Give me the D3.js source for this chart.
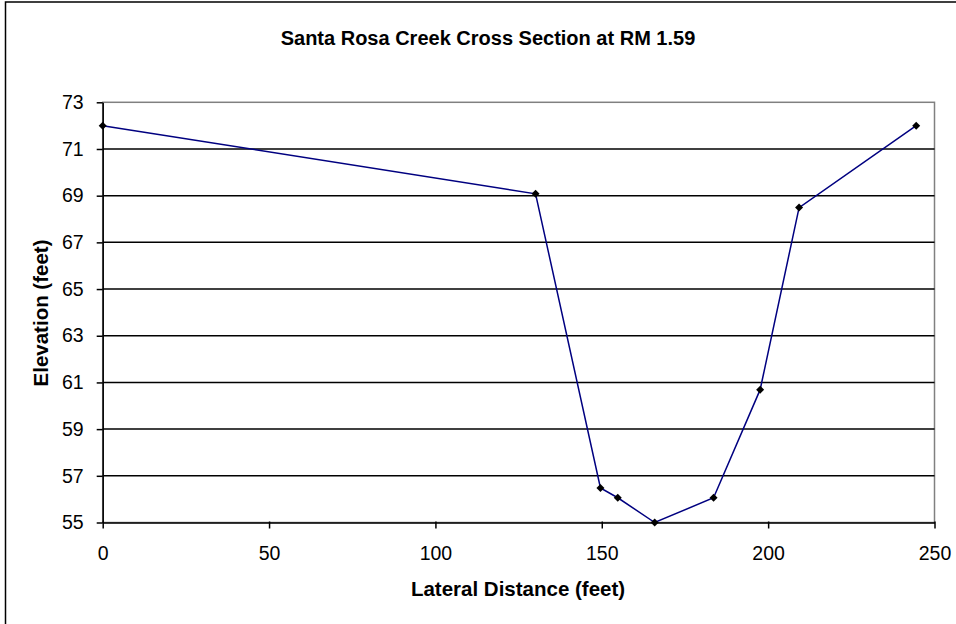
<!DOCTYPE html>
<html>
<head>
<meta charset="utf-8">
<script src="https://cdn.jsdelivr.net/npm/d3@7"></script>
<style>
  body { margin: 0; background: #fff; overflow: hidden; }
  svg { display: block; }
  text { font-family: "Liberation Sans", Arial, sans-serif; }
</style>
</head>
<body>
<div id="display"></div>
<script>
// cross section survey points
const distance = [0, 130.1, 149.6, 154.8, 165.9, 183.6, 197.6, 209.3, 244.5];
const elevation = [72.0, 69.08, 56.48, 56.06, 55.0, 56.06, 60.69, 68.49, 72.0];
const xTicks = [0, 50, 100, 150, 200, 250];
const yTicks = [55, 57, 59, 61, 63, 65, 67, 69, 71, 73];

const W = 956, H = 624;
const plotLeft = 102.7, plotRight = 934.5, plotTop = 102.3, plotBottom = 522.5;

const svg = d3.select('#display')
  .append('svg')
  .attr('width', W)
  .attr('height', H);

// outer chart frame (runs off right/bottom edge like the original)
svg.append('rect')
  .attr('x', 5.5).attr('y', 2)
  .attr('width', 960).attr('height', 640)
  .attr('fill', 'white')
  .attr('stroke', 'black')
  .attr('stroke-width', 1.5);

const x = d3.scaleLinear().domain([0, 250]).range([plotLeft, plotRight]);
const y = d3.scaleLinear().domain([55, 73]).range([plotBottom, plotTop]);

// plot area border (grey)
svg.append('rect')
  .attr('x', plotLeft).attr('y', plotTop)
  .attr('width', plotRight - plotLeft).attr('height', plotBottom - plotTop)
  .attr('fill', 'none')
  .attr('stroke', '#808080')
  .attr('stroke-width', 1.5);

// horizontal gridlines
svg.append('g')
  .selectAll('line')
  .data(yTicks.filter(d => d > 55 && d < 73))
  .join('line')
  .attr('x1', plotLeft).attr('x2', plotRight)
  .attr('y1', d => y(d)).attr('y2', d => y(d))
  .attr('stroke', 'black')
  .attr('stroke-width', 1.5);

// axes
const xAxis = svg.append('g')
  .attr('transform', `translate(0,${plotBottom})`)
  .call(d3.axisBottom(x).tickValues(xTicks).tickSize(6).tickPadding(18).tickSizeOuter(0));

const yAxis = svg.append('g')
  .attr('transform', `translate(${plotLeft},0)`)
  .call(d3.axisLeft(y).tickValues(yTicks).tickSize(6).tickPadding(13).tickSizeOuter(0));

[xAxis, yAxis].forEach(g => {
  g.select('.domain').attr('stroke', 'black').attr('stroke-width', 1.5);
  g.selectAll('.tick line').attr('stroke', 'black').attr('stroke-width', 1.5);
  g.selectAll('.tick text')
    .attr('fill', 'black')
    .attr('font-size', '19.5px')
    .attr('font-family', '"Liberation Sans", Arial, sans-serif');
});

// the x axis ticks in the original poke slightly above the axis too
xAxis.selectAll('.tick line').attr('y1', -1);

// data line
const pts = distance.map((d, i) => [d, elevation[i]]);
svg.append('path')
  .datum(pts)
  .attr('d', d3.line().x(d => x(d[0])).y(d => y(d[1])))
  .attr('fill', 'none')
  .attr('stroke', '#000080')
  .attr('stroke-width', 1.5);

// diamond markers
svg.append('g')
  .selectAll('path')
  .data(pts)
  .join('path')
  .attr('transform', d => `translate(${x(d[0])},${y(d[1])})`)
  .attr('d', 'M0,-4 L4,0 L0,4 L-4,0 Z')
  .attr('fill', 'black');

// title and axis titles
svg.append('text')
  .attr('x', 488).attr('y', 45)
  .attr('text-anchor', 'middle')
  .attr('font-size', '20px')
  .attr('font-weight', 'bold')
  .text('Santa Rosa Creek Cross Section at RM 1.59');

svg.append('text')
  .attr('x', 518).attr('y', 596)
  .attr('text-anchor', 'middle')
  .attr('font-size', '20.5px')
  .attr('font-weight', 'bold')
  .text('Lateral Distance (feet)');

svg.append('text')
  .attr('transform', 'translate(48,313) rotate(-90)')
  .attr('text-anchor', 'middle')
  .attr('font-size', '20.5px')
  .attr('font-weight', 'bold')
  .text('Elevation (feet)');
</script>
</body>
</html>
